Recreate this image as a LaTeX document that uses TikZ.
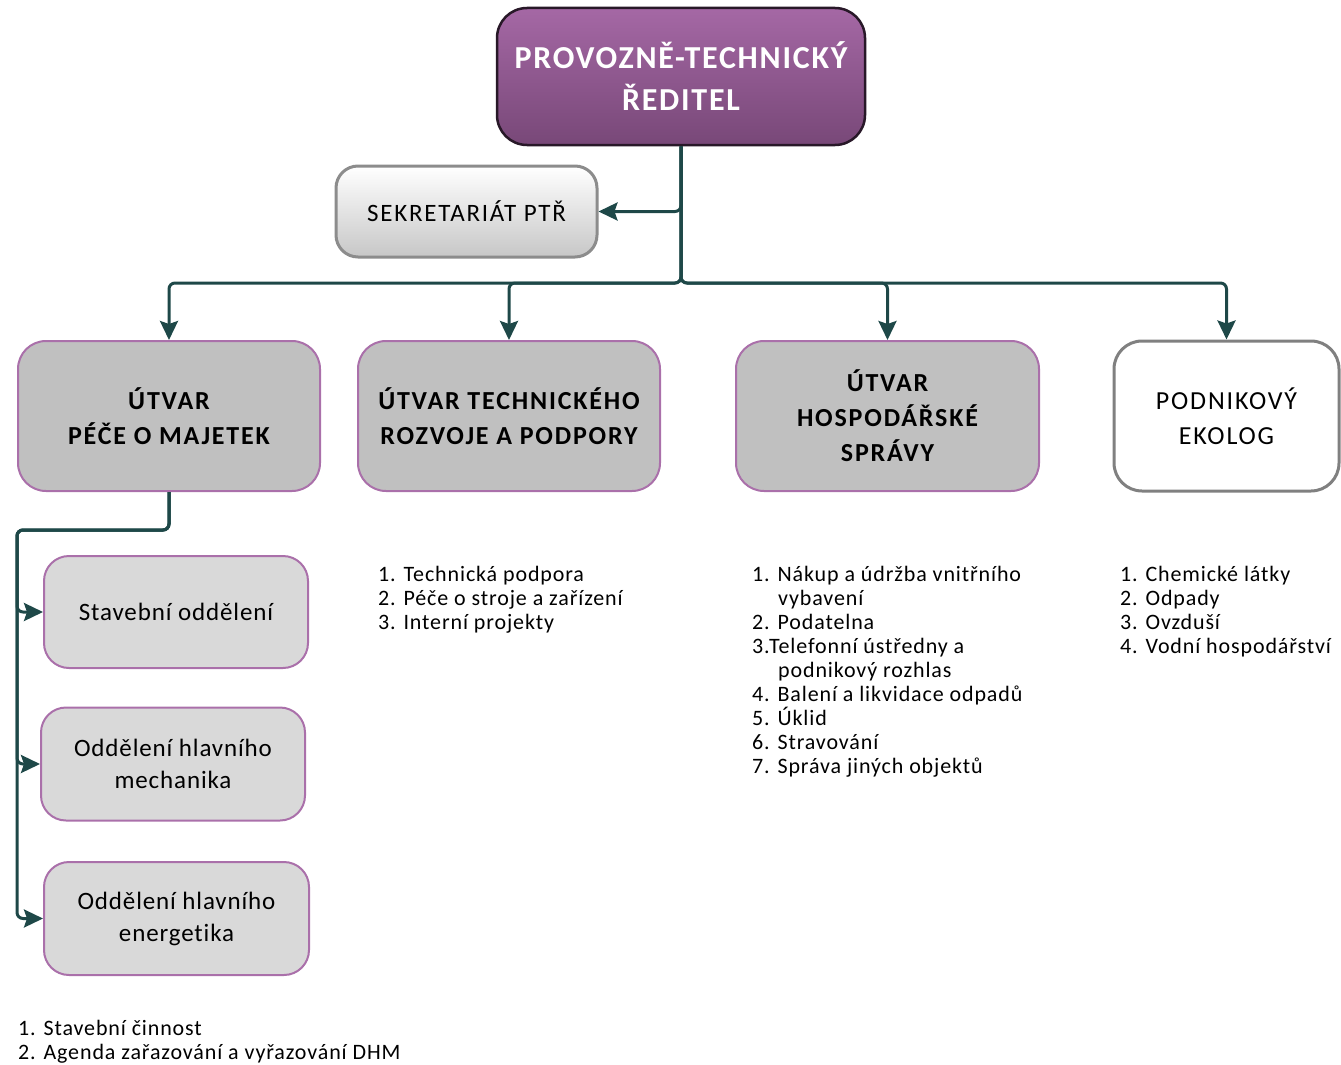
\documentclass[tikz,border=0pt]{standalone}
\usepackage{fontspec}
\setmainfont[Ligatures=CommonOff]{Carlito}
\usetikzlibrary{arrows.meta}
\definecolor{conn}{HTML}{1E4848}
\definecolor{purpb}{HTML}{A060A0}
\definecolor{graybox}{HTML}{C0C0C0}
\definecolor{subbox}{HTML}{D9D9D9}
\tikzset{
  x=1pt, y=-1pt,
  conline/.style={draw=conn, line width=3pt, rounded corners=6pt, -{Stealth[length=19pt,width=18pt,inset=3pt]}},
  topbox/.style={draw=black!75!purpb, line width=2.5pt, rounded corners=30pt, top color=purpb!95, bottom color=purpb!75!black, text=white, align=center, font=\fontsize{32}{42}\selectfont\bfseries\addfontfeatures{LetterSpace=5.5}, inner sep=0pt},
  sekbox/.style={draw=black!45, line width=3pt, rounded corners=22pt, top color=white, bottom color=black!22, align=center, font=\fontsize{25}{30}\selectfont\addfontfeatures{LetterSpace=7}, inner sep=0pt},
  lvbox/.style={draw=purpb!90, line width=2pt, rounded corners=28pt, fill=graybox, align=center, font=\fontsize{26}{35}\selectfont\bfseries\addfontfeatures{LetterSpace=7}, inner sep=0pt},
  ekobox/.style={draw=black!50, line width=3pt, rounded corners=28pt, fill=white, align=center, font=\fontsize{26}{35}\selectfont\addfontfeatures{LetterSpace=7}, inner sep=0pt},
  subboxst/.style={draw=purpb!90, line width=2pt, rounded corners=25pt, fill=subbox, align=center, font=\fontsize{25}{32}\selectfont\addfontfeatures{LetterSpace=3.5}, inner sep=0pt},
  listtxt/.style={anchor=north west, align=left, font=\fontsize{22}{24}\selectfont\addfontfeatures{LetterSpace=4}, inner sep=0pt}
}
\begin{document}
\begin{tikzpicture}
\useasboundingbox (0,0) rectangle (1341,1065);
% boxes
\node[topbox, minimum width=368pt, minimum height=137pt] (top) at (681,76.5) {PROVOZNĚ-TECHNICKÝ\\ŘEDITEL};
\node[sekbox, minimum width=261pt, minimum height=91pt] (sek) at (466.5,211.5) {SEKRETARIÁT PTŘ};
\node[lvbox, minimum width=302pt, minimum height=150pt] (b1) at (169,416) {ÚTVAR\\PÉČE O MAJETEK};
\node[lvbox, minimum width=302pt, minimum height=150pt] (b2) at (509,416) {ÚTVAR TECHNICKÉHO\\ROZVOJE A PODPORY};
\node[lvbox, minimum width=303pt, minimum height=150pt] (b3) at (887.5,416) {ÚTVAR\\HOSPODÁŘSKÉ\\SPRÁVY};
\node[ekobox, minimum width=225pt, minimum height=150pt] (b4) at (1226.5,416) {PODNIKOVÝ\\EKOLOG};
\node[subboxst, minimum width=264pt, minimum height=112pt] (s1) at (176,612) {Stavební oddělení};
\node[subboxst, minimum width=264pt, minimum height=113pt] (s2) at (173,764) {Oddělení hlavního\\mechanika};
\node[subboxst, minimum width=265pt, minimum height=113pt] (s3) at (176.5,918.5) {Oddělení hlavního\\energetika};
% coordinates
\coordinate (bus) at (681,283);
\coordinate (lbus) at (17,530);
% connectors
\draw[conline] (top.south) |- (sek.east);
\draw[conline] (top.south) -- (bus) -| (b1.north);
\draw[conline] (top.south) -- (bus) -| (b2.north);
\draw[conline] (top.south) -- (bus) -| (b3.north);
\draw[conline] (top.south) -- (bus) -| (b4.north);
\draw[conline] (b1.south) |- (lbus) |- (s1.west);
\draw[conline] (b1.south) |- (lbus) |- (s2.west);
\draw[conline] (b1.south) |- (lbus) |- (s3.west);
% lists
\node[listtxt] (l2) at (378,566) {1. Technická podpora\\2. Péče o stroje a zařízení\\3. Interní projekty};
\node[listtxt] (l3) at (752,566) {1. Nákup a údržba vnitřního\\\hspace*{26pt}vybavení\\2. Podatelna\\3.Telefonní ústředny a\\\hspace*{26pt}podnikový rozhlas\\4. Balení a likvidace odpadů\\5. Úklid\\6. Stravování\\7. Správa jiných objektů};
\node[listtxt] (l4) at (1120,566) {1. Chemické látky\\2. Odpady\\3. Ovzduší\\4. Vodní hospodářství};
\node[listtxt] (l1) at (18,1020) {1. Stavební činnost\\2. Agenda zařazování a vyřazování DHM};
\end{tikzpicture}
\end{document}
